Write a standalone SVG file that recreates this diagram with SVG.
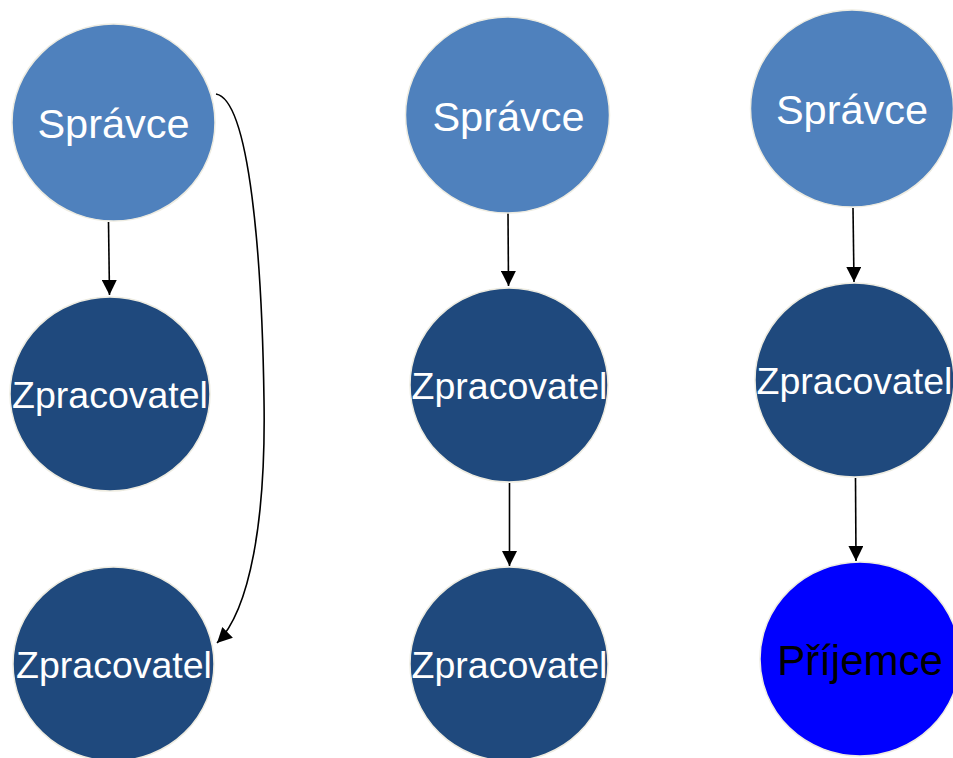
<svg xmlns="http://www.w3.org/2000/svg" width="953" height="758" viewBox="0 0 953 758">
<defs>
<style>
.n ellipse{stroke:#EEECE1;stroke-width:1.5}
.s ellipse{fill:#4F81BD}
.z ellipse{fill:#1F497D}
.p ellipse{fill:#0000FF}
text{font-family:"Liberation Sans",Arial,sans-serif;text-anchor:middle;fill:#FFFFFF}
.s text{font-size:41.5px}
.z text{font-size:37.5px}
.p text{font-size:42px;fill:#000000}
.c path{fill:none;stroke:#000;stroke-width:1.6}
</style>
<marker id="ah" viewBox="0 0 10 10" refX="10" refY="5" markerWidth="15" markerHeight="15" markerUnits="userSpaceOnUse" orient="auto">
<path d="M0,0 L10,5 L0,10 z" fill="#000"/>
</marker>
</defs>
<rect width="953" height="758" fill="#FFFFFF"/>
<g id="connectors" class="c">
<path d="M108.5,222 L109.5,295" marker-end="url(#ah)"/>
<path d="M216,94 C250,100 262,260 264,400 C266,520 250,610 217,643" marker-end="url(#ah)"/>
<path d="M508,213 L508.5,286" marker-end="url(#ah)"/>
<path d="M509.5,483 L509.5,566" marker-end="url(#ah)"/>
<path d="M853,208 L854,282" marker-end="url(#ah)"/>
<path d="M855.5,478 L856,561" marker-end="url(#ah)"/>
</g>
<g id="spravce1" class="n s"><ellipse cx="113.5" cy="122.5" rx="101.5" ry="98.5"/><text x="113.5" y="138">Správce</text></g>
<g id="zpracovatel1a" class="n z"><ellipse cx="110" cy="394" rx="100" ry="97"/><text x="110" y="408">Zpracovatel</text></g>
<g id="zpracovatel1b" class="n z"><ellipse cx="113.5" cy="664" rx="100.5" ry="97"/><text x="114" y="678">Zpracovatel</text></g>
<g id="spravce2" class="n s"><ellipse cx="507.5" cy="115" rx="102" ry="98"/><text x="508.5" y="131">Správce</text></g>
<g id="zpracovatel2a" class="n z"><ellipse cx="509" cy="385" rx="99" ry="97"/><text x="509.5" y="399">Zpracovatel</text></g>
<g id="zpracovatel2b" class="n z"><ellipse cx="509" cy="664" rx="99" ry="97"/><text x="509.5" y="678">Zpracovatel</text></g>
<g id="spravce3" class="n s"><ellipse cx="852" cy="108.5" rx="101.5" ry="98.5"/><text x="852" y="124">Správce</text></g>
<g id="zpracovatel3" class="n z"><ellipse cx="854.5" cy="380" rx="99.5" ry="97"/><text x="854.5" y="394">Zpracovatel</text></g>
<g id="prijemce" class="n p"><ellipse cx="860" cy="659" rx="100" ry="97"/><text x="860" y="675">Příjemce</text></g>
</svg>
